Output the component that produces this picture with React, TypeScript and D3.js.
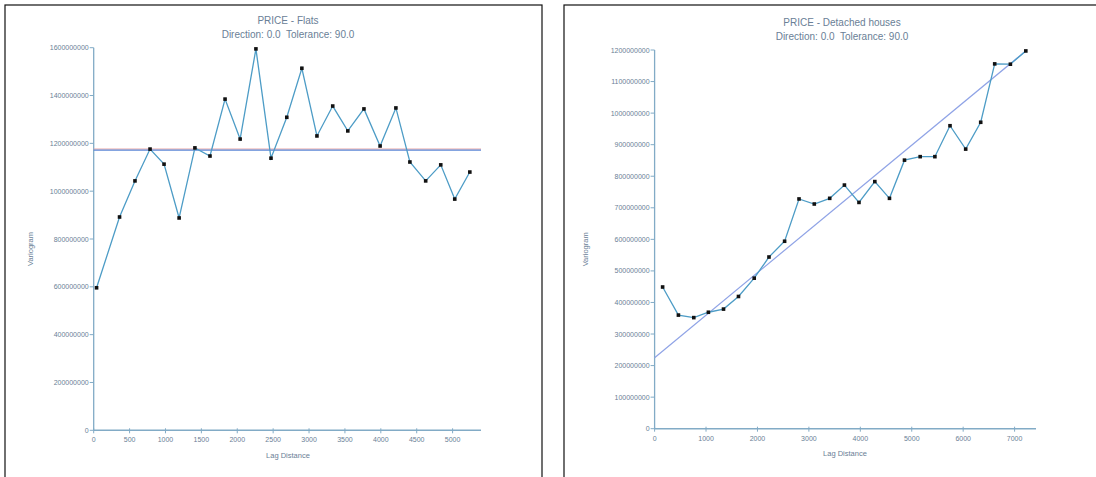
import React from "react";
import * as d3 from "d3";

// ---------- data ----------
const flatsLag = [40, 360, 575, 785, 980, 1190, 1410, 1620, 1830, 2040, 2260, 2470, 2690, 2900, 3110, 3330, 3540, 3765, 3990, 4210, 4405, 4625, 4835, 5030, 5240];
const flatsVario = [596e6, 892e6, 1043e6, 1176e6, 1113e6, 888e6, 1181e6, 1147e6, 1385e6, 1218e6, 1595e6, 1138e6, 1309e6, 1514e6, 1231e6, 1356e6, 1252e6, 1344e6, 1189e6, 1348e6, 1122e6, 1043e6, 1110e6, 967e6, 1080e6];
const flatsSill = 1172e6;
const flatsYTicks = [0, 200000000, 400000000, 600000000, 800000000, 1000000000, 1200000000, 1400000000, 1600000000];
const flatsXTicks = [0, 500, 1000, 1500, 2000, 2500, 3000, 3500, 4000, 4500, 5000];

const housesLag = [156, 463, 762, 1046, 1340, 1631, 1937, 2224, 2528, 2808, 3105, 3405, 3691, 3974, 4282, 4567, 4859, 5164, 5450, 5744, 6049, 6341, 6613, 6918, 7218];
const housesVario = [449e6, 360e6, 352e6, 369e6, 379e6, 419e6, 477e6, 544e6, 594e6, 728e6, 712e6, 730e6, 772e6, 717e6, 783e6, 730e6, 851e6, 862e6, 862e6, 960e6, 886e6, 971e6, 1156e6, 1155e6, 1197e6];
const housesModelLag = [0, 7240];
const housesModelVario = [225e6, 1200e6];
const housesYTicks = [0, 100000000, 200000000, 300000000, 400000000, 500000000, 600000000, 700000000, 800000000, 900000000, 1000000000, 1100000000, 1200000000];
const housesXTicks = [0, 1000, 2000, 3000, 4000, 5000, 6000, 7000];

const FONT = "'Liberation Sans', Arial, sans-serif";
const AXIS = "#82abc6";
const TEXT = "#6a8096";
const DATA = "#4d9cc6";

type PanelProps = {
  px: number; pw: number;
  title1: string; title2: string; tx: number; ty: number;
  x0: number; x1: number; xMax: number; y0: number; y1: number; yMax: number;
  xEnd: number;
  lags: number[]; vals: number[];
  xTicks: number[]; yTicks: number[];
  children?: (x: d3.ScaleLinear<number, number>, y: d3.ScaleLinear<number, number>) => React.ReactNode;
  ylx: number; xlx: number; xly: number;
};

function Panel(p: PanelProps) {
  const x = d3.scaleLinear().domain([0, p.xMax]).range([p.x0, p.x1]);
  const y = d3.scaleLinear().domain([0, p.yMax]).range([p.y0, p.y1]);
  const line = d3.line<number>().x((_, i) => x(p.lags[i])).y((v) => y(v));
  return (
    <g>
      <rect x={p.px} y={5} width={p.pw} height={500} fill="white" stroke="#111" strokeWidth={1.2} />
      <text x={p.tx} y={p.ty} textAnchor="middle" fontFamily={FONT} fontSize={10} fill={TEXT}>{p.title1}</text>
      <text x={p.tx} y={p.ty + 14} textAnchor="middle" fontFamily={FONT} fontSize={10} fill={TEXT} style={{ whiteSpace: "pre" }}>{p.title2}</text>
      {/* y axis */}
      <line x1={p.x0} x2={p.x0} y1={p.y0} y2={p.y1} stroke={AXIS} strokeWidth={1.3} />
      {p.yTicks.map((t) => (
        <g key={"y" + t}>
          <line x1={p.x0 - 4} x2={p.x0} y1={y(t)} y2={y(t)} stroke={AXIS} strokeWidth={1} />
          <text x={p.x0 - 5} y={y(t) + 2.5} textAnchor="end" fontFamily={FONT} fontSize={7} fill={TEXT}>{String(t)}</text>
        </g>
      ))}
      {/* x axis */}
      <line x1={p.x0} x2={p.xEnd} y1={p.y0} y2={p.y0} stroke={AXIS} strokeWidth={1.6} />
      {p.xTicks.map((t) => (
        <g key={"x" + t}>
          <line x1={x(t)} x2={x(t)} y1={p.y0 - 2} y2={p.y0 + 3} stroke={AXIS} strokeWidth={1} />
          <text x={x(t)} y={p.y0 + 12} textAnchor="middle" fontFamily={FONT} fontSize={7} fill={TEXT}>{String(t)}</text>
        </g>
      ))}
      <text x={p.xlx} y={p.xly} textAnchor="middle" fontFamily={FONT} fontSize={7.5} fill={TEXT}>Lag Distance</text>
      <text transform={`translate(${p.ylx},${(p.y0 + p.y1) / 2 + 10}) rotate(-90)`} textAnchor="middle" fontFamily={FONT} fontSize={7.5} fill={TEXT}>Variogram</text>
      {p.children ? p.children(x, y) : null}
      <path d={line(p.vals) || ""} fill="none" stroke={DATA} strokeWidth={1.3} />
      {p.vals.map((v, i) => (
        <rect key={"p" + i} x={x(p.lags[i]) - 1.8} y={y(v) - 1.8} width={3.6} height={3.6} fill="#111" />
      ))}
    </g>
  );
}

export default function App() {
  return (
    <svg width={1096} height={477} style={{ position: "absolute", left: 0, top: 0, background: "white" }}>
      <rect x={0} y={0} width={1096} height={477} fill="white" />
      <Panel
        px={5} pw={537}
        title1="PRICE - Flats" title2="Direction: 0.0  Tolerance: 90.0" tx={288} ty={24}
        x0={93.7} x1={452.6} xMax={5000} y0={430.3} y1={47.7} yMax={1600000000} xEnd={481}
        lags={flatsLag} vals={flatsVario} xTicks={flatsXTicks} yTicks={flatsYTicks}
        ylx={33} xlx={288} xly={458}
      >
        {(x, y) => (
          <g>
            <line x1={x(0)} x2={481} y1={y(flatsSill) - 1} y2={y(flatsSill) - 1} stroke="#e7a0a0" strokeWidth={1} />
            <line x1={x(0)} x2={481} y1={y(flatsSill)} y2={y(flatsSill)} stroke="#5b86d6" strokeWidth={1.2} />
          </g>
        )}
      </Panel>
      <Panel
        px={564} pw={560}
        title1="PRICE - Detached houses" title2="Direction: 0.0  Tolerance: 90.0" tx={842} ty={26}
        x0={654.6} x1={1014.6} xMax={7000} y0={428.7} y1={50} yMax={1200000000} xEnd={1036}
        lags={housesLag} vals={housesVario} xTicks={housesXTicks} yTicks={housesYTicks}
        ylx={588} xlx={845} xly={456}
      >
        {(x, y) => (
          <line x1={x(housesModelLag[0])} x2={x(housesModelLag[1])} y1={y(housesModelVario[0])} y2={y(housesModelVario[1])} stroke="#8fa3e6" strokeWidth={1.2} />
        )}
      </Panel>
    </svg>
  );
}
